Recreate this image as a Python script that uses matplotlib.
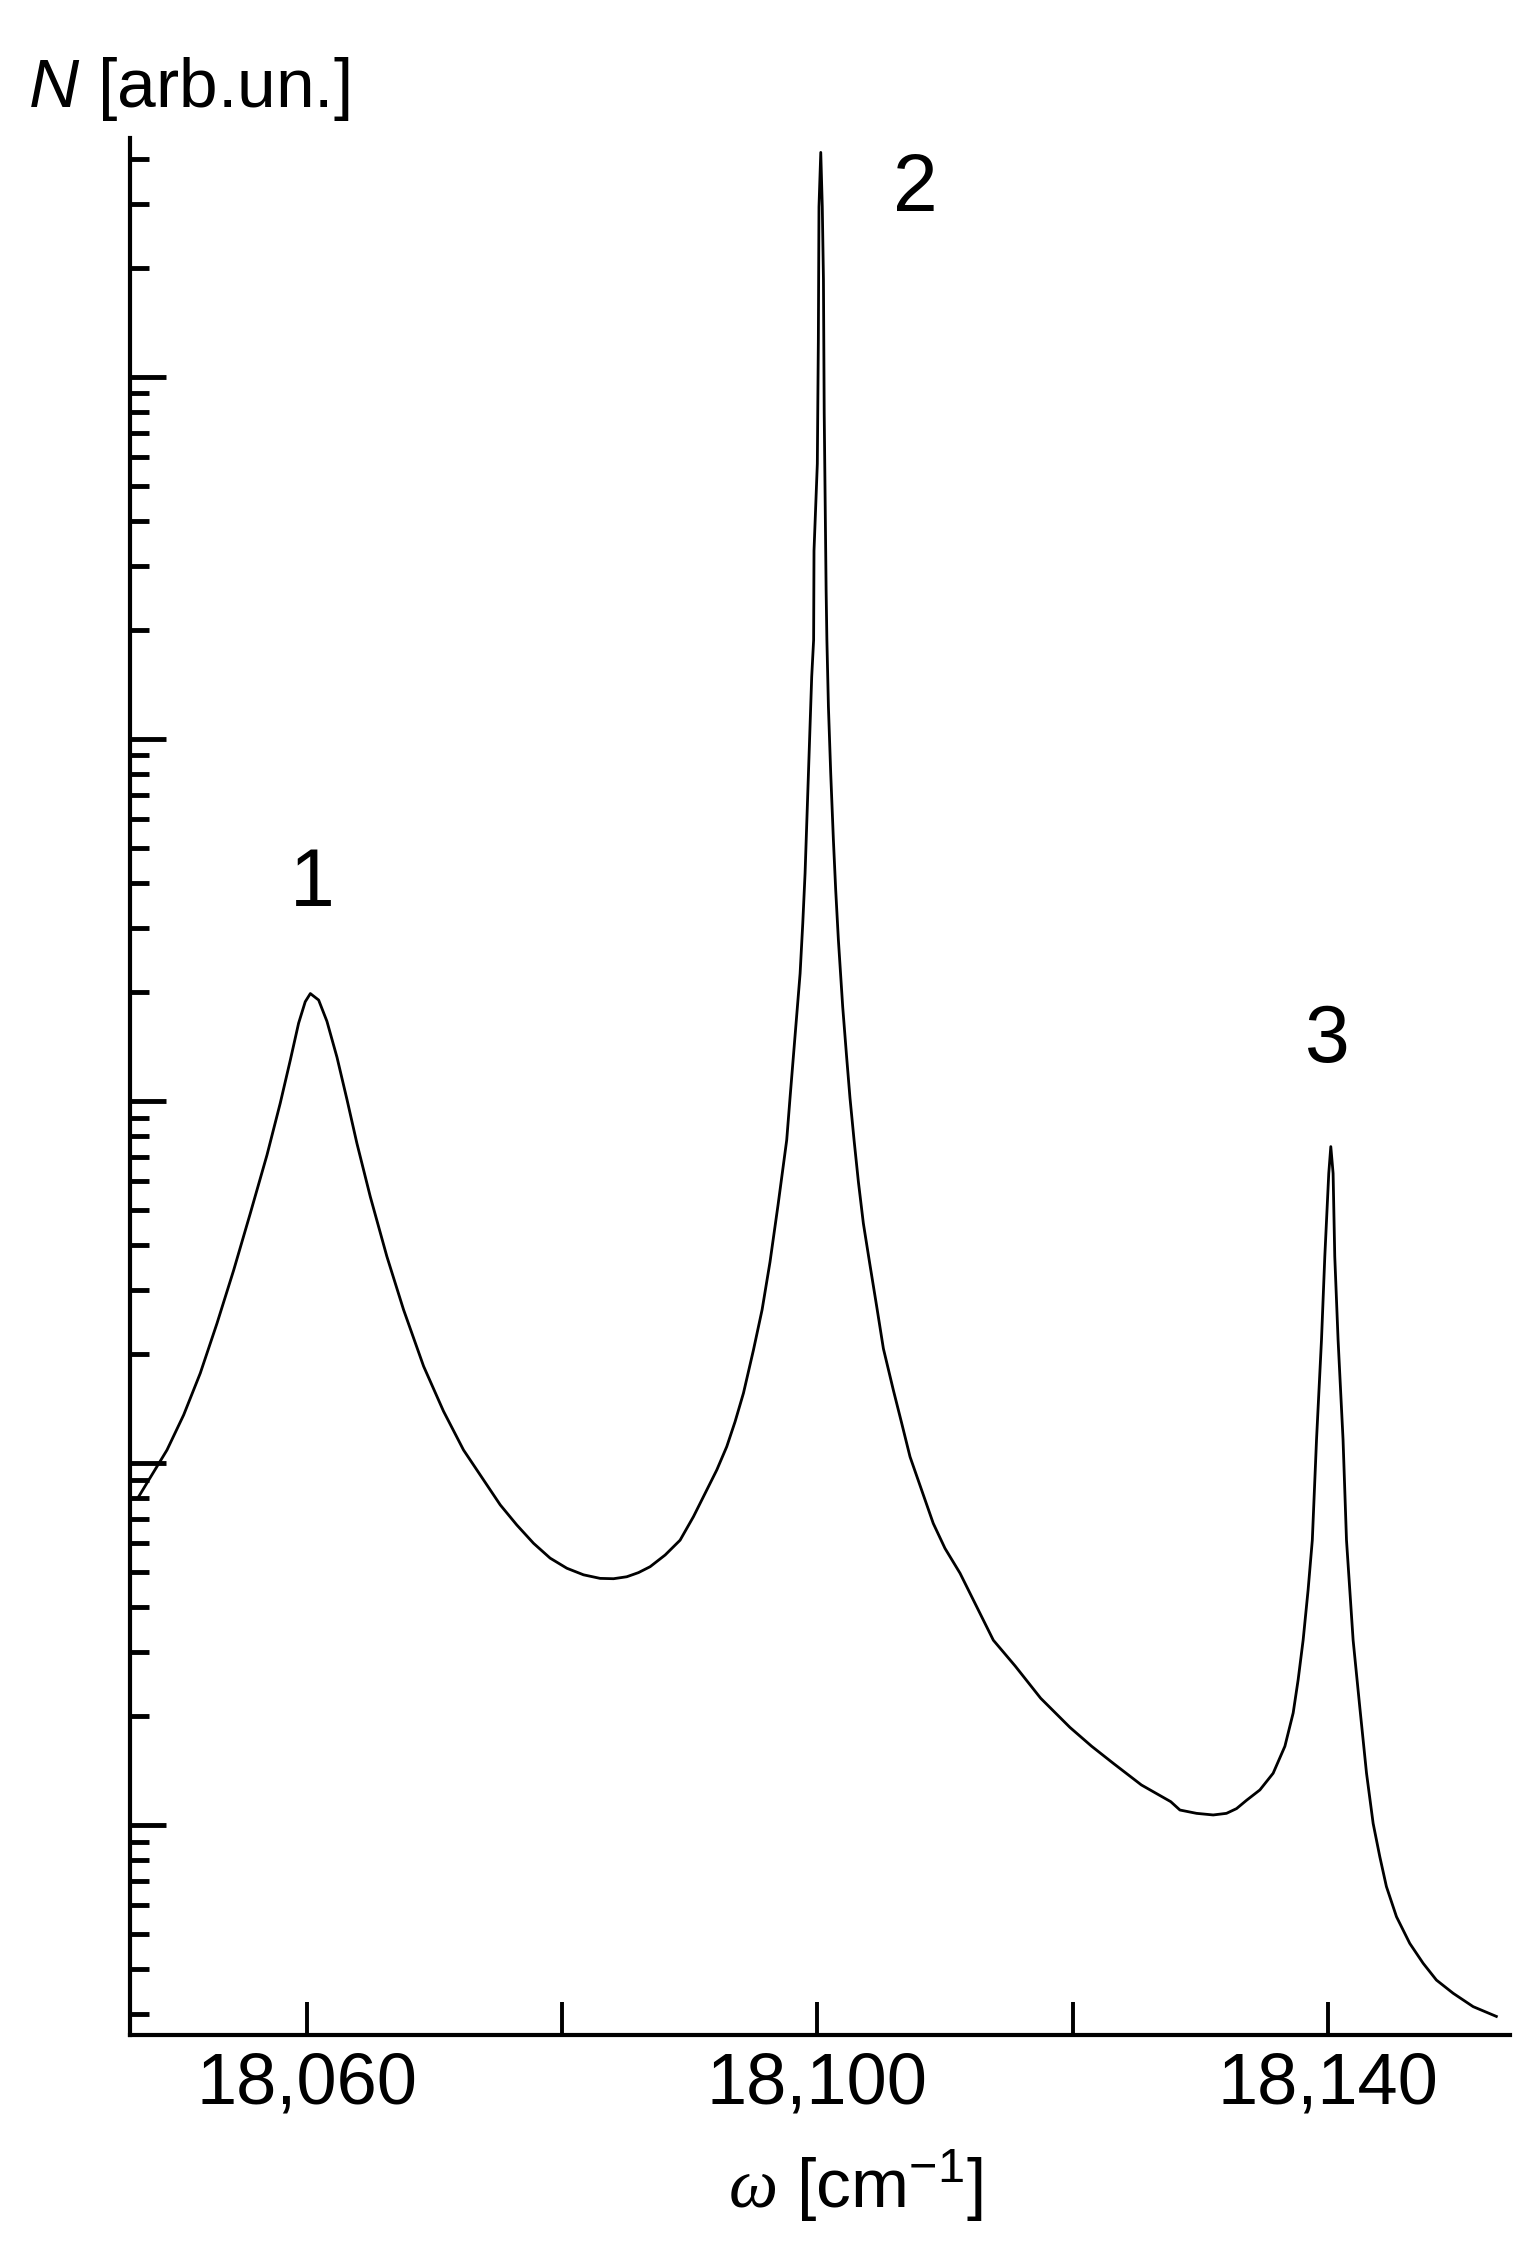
import matplotlib
matplotlib.use("Agg")
import matplotlib.pyplot as plt
from matplotlib.ticker import LogLocator, NullFormatter

# ---- data ----
omega = [18046.76, 18049.00, 18050.31, 18051.61, 18052.92, 18054.23, 18055.53, 18056.84,
         18057.88, 18058.67, 18059.32, 18059.84, 18060.24, 18060.89, 18061.54, 18062.33,
         18063.11, 18063.89, 18064.94, 18066.24, 18067.55, 18069.12, 18070.68, 18072.25,
         18075.13, 18076.43, 18077.74, 18079.04, 18080.35, 18081.66, 18082.96, 18084.01,
         18085.05, 18085.97, 18086.88, 18088.06, 18089.23, 18090.28, 18091.32, 18092.11,
         18092.89, 18093.54, 18094.20, 18094.98, 18095.66, 18096.28, 18096.91, 18097.59,
         18097.85, 18098.11, 18098.38, 18098.64, 18098.85, 18099.03, 18099.16, 18099.29,
         18099.55, 18099.70, 18099.73, 18099.99, 18100.07, 18100.12, 18100.26, 18100.38,
         18100.47, 18100.53, 18100.68, 18100.74, 18100.86, 18101.04, 18101.25, 18101.43,
         18101.64, 18101.98, 18102.29, 18102.55, 18102.87, 18103.21, 18103.60, 18104.12,
         18104.65, 18105.17, 18105.95, 18106.60, 18107.26, 18108.17, 18109.08, 18110.00,
         18111.18, 18112.48, 18113.79, 18115.50, 18117.50, 18119.80, 18121.50, 18123.20,
         18125.40, 18127.70, 18128.42, 18129.72, 18131.03, 18132.07, 18132.86, 18133.64,
         18134.69, 18135.73, 18136.65, 18137.30, 18137.69, 18138.08, 18138.47, 18138.80,
         18139.13, 18139.52, 18139.78, 18140.09, 18140.25, 18140.43, 18140.56, 18140.82,
         18141.21, 18141.48, 18142.00, 18142.52, 18143.05, 18143.57, 18144.09, 18144.61,
         18145.40, 18146.44, 18147.49, 18148.53, 18149.84, 18151.41, 18153.23]
intensity = [8.05, 10.86, 13.58, 17.7, 24.3, 34.1, 48.9, 70.9,
             98.6, 129.7, 164, 188, 198, 190, 166, 132,
             101, 76.4, 54.4, 37.2, 26.5, 18.5, 13.9, 10.86,
             7.66, 6.74, 6.0, 5.46, 5.12, 4.91, 4.80, 4.79,
             4.85, 4.98, 5.17, 5.57, 6.12, 7.11, 8.42, 9.57,
             11.1, 13.0, 15.6, 20.5, 26.5, 35.9, 51.6, 78.0,
             102, 132, 173, 225, 310, 426, 585, 804,
             1486, 1877, 3311, 5754, 12590, 29500, 41700, 29500,
             18600, 7940, 2570, 1877, 1228, 804, 526, 383,
             279, 182, 132, 102, 78.0, 59.8, 45.9, 35.2,
             27.0, 20.7, 15.9, 12.9, 10.4, 8.42, 6.81, 5.81,
             4.96, 4.01, 3.24, 2.75, 2.24, 1.86, 1.65, 1.48,
             1.29, 1.16, 1.10, 1.077, 1.066, 1.077, 1.11, 1.17,
             1.25, 1.39, 1.65, 2.04, 2.52, 3.24, 4.46, 6.12,
             11.6, 21.9, 37.2, 63.1, 74.8, 63.1, 37.2, 21.9,
             11.6, 6.12, 3.24, 2.12, 1.39, 1.01, 0.818, 0.676,
             0.558, 0.471, 0.415, 0.373, 0.343, 0.315, 0.296]

xtick_values = [18060, 18080, 18100, 18120, 18140]
xtick_labels = ["18,060", "", "18,100", "", "18,140"]

peak_labels = ["1", "2", "3"]
peak_label_x = [18060.4, 18107.7, 18140.0]
peak_label_y = [395, 32900, 146]

# ---- style ----
plt.rcParams["font.family"] = ["Liberation Sans", "DejaVu Sans"]
plt.rcParams["mathtext.fontset"] = "custom"
plt.rcParams["mathtext.rm"] = "Liberation Sans"
plt.rcParams["mathtext.it"] = "Liberation Sans:italic"
plt.rcParams["mathtext.sf"] = "Liberation Serif:italic"

W, H = 1538, 2267
fig = plt.figure(figsize=(W / 100, H / 100), dpi=100)
ax = fig.add_axes([130 / W, 1 - 2035 / H, (1510 - 130) / W, (2035 - 138) / H])

ax.plot(omega, intensity, color="black", lw=2.0, solid_joinstyle="round")

ax.set_yscale("log")
ax.set_xlim(18046.1, 18154.3)
ax.set_ylim(0.263, 45700)

for s in ["top", "right"]:
    ax.spines[s].set_visible(False)
for s in ["left", "bottom"]:
    ax.spines[s].set_linewidth(3.0)

ax.yaxis.set_major_locator(LogLocator(base=10, numticks=20))
ax.yaxis.set_minor_locator(LogLocator(base=10, subs=range(2, 10), numticks=20))
ax.yaxis.set_major_formatter(NullFormatter())
ax.yaxis.set_minor_formatter(NullFormatter())
ax.tick_params(axis="y", which="major", direction="in", length=26, width=3.5)
ax.tick_params(axis="y", which="minor", direction="in", length=14, width=3.5)

ax.set_xticks(xtick_values, labels=xtick_labels)
ax.xaxis.set_minor_locator(plt.NullLocator())
ax.tick_params(axis="x", which="major", direction="in", length=24, width=2.8,
               labelsize=52, pad=12)

fig.text(28 / W, 1 - 107 / H, r"$N$ [arb.un.]", fontsize=50, ha="left", va="baseline")
fig.text(855 / W, 1 - 2208 / H, r"$\mathsf{\omega}$ [cm$^{-1}$]", fontsize=50,
         ha="center", va="baseline")

for lab, lx, ly in zip(peak_labels, peak_label_x, peak_label_y):
    ax.text(lx, ly, lab, fontsize=58, ha="center", va="center")

fig.savefig("out.png", dpi=100, facecolor="white")
